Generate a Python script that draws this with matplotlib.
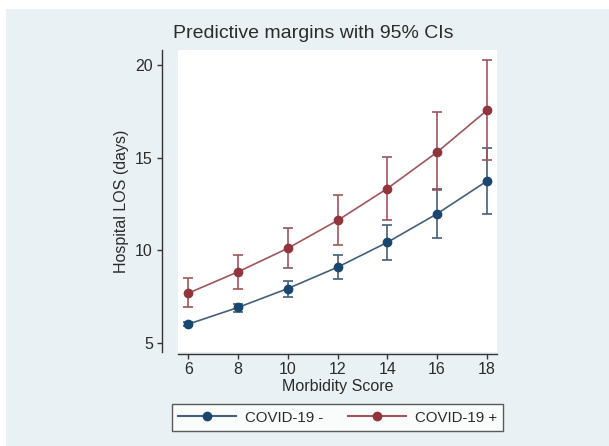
import matplotlib
matplotlib.use("Agg")
import matplotlib.pyplot as plt
from matplotlib.patches import Rectangle
from matplotlib.lines import Line2D

plt.rcParams['font.family'] = ['Liberation Sans', 'DejaVu Sans']

# Data
scores = [6, 8, 10, 12, 14, 16, 18]
neg_mean = [6.02, 6.92, 7.94, 9.09, 10.43, 11.97, 13.73]
neg_low = [5.92, 6.68, 7.51, 8.44, 9.48, 10.65, 11.97]
neg_high = [6.12, 7.13, 8.35, 9.75, 11.38, 13.28, 15.52]
pos_mean = [7.69, 8.84, 10.11, 11.61, 13.33, 15.29, 17.54]
pos_low = [6.92, 7.94, 9.05, 10.29, 11.65, 13.23, 14.86]
pos_high = [8.49, 9.73, 11.20, 12.97, 15.04, 17.46, 20.27]
labels = ["COVID-19 -", "COVID-19 +"]
yticks = [5, 10, 15, 20]
xticks = [6, 8, 10, 12, 14, 16, 18]

W, H = 609, 446
PX = 72 / 100  # points per pixel
fig = plt.figure(figsize=(W / 100, H / 100), dpi=100)
fig.patch.set_facecolor('white')
bg = '#e9f1f4'
fig.patches.append(Rectangle((6 / W, 0), 1 - 6 / W, 1 - 9 / H, transform=fig.transFigure,
                             facecolor=bg, edgecolor='none', zorder=-10))

ax = fig.add_axes([178 / W, 1 - 352 / H, (497 - 178) / W, (352 - 50) / H])
ax.set_facecolor('white')

blue_m, blue_l = '#1a476f', '#435f79'
red_m, red_l = '#90353b', '#a0555a'
txt = '#2b2b2b'

for mean, lo, hi, mc, lc in [(neg_mean, neg_low, neg_high, blue_m, blue_l),
                              (pos_mean, pos_low, pos_high, red_m, red_l)]:
    yerr = [[m - l for m, l in zip(mean, lo)], [h - m for m, h in zip(mean, hi)]]
    ax.errorbar(scores, mean, yerr=yerr, fmt='none', ecolor=lc, elinewidth=1.2,
                capsize=3.8, capthick=1.2, zorder=2)
    ax.plot(scores, mean, color=lc, lw=1.2, zorder=3)
    ax.plot(scores, mean, 'o', color=mc, markersize=6, zorder=4)

ax.set_xlim(5.59, 18.41)
ax.set_ylim(4.52, 20.8)
ax.set_xticks(xticks)
ax.set_yticks(yticks)
ax.spines['top'].set_visible(False)
ax.spines['right'].set_visible(False)
ax.spines['left'].set_position(('outward', 16 * PX))
ax.spines['bottom'].set_position(('outward', 1.5 * PX))
for s in ['left', 'bottom']:
    ax.spines[s].set_color('#333333')
    ax.spines[s].set_linewidth(1.0)
ax.tick_params(axis='both', colors='#333333', labelcolor=txt, labelsize=11.5,
               length=5 * PX, width=1.0, pad=4 * PX)

ax.set_xlabel('Morbidity Score', fontsize=11.5, color=txt, labelpad=1)
ax.set_ylabel('Hospital LOS (days)', fontsize=11.5, color=txt, labelpad=4.5)
fig.text(173 / W, 1 - 34 / H, 'Predictive margins with 95% CIs', fontsize=14,
         color=txt, ha='left', va='center')

handles = [Line2D([0], [0], color=blue_l, lw=1.5, marker='o', markersize=6,
                  markerfacecolor=blue_m, markeredgecolor=blue_m),
           Line2D([0], [0], color=red_l, lw=1.5, marker='o', markersize=6,
                  markerfacecolor=red_m, markeredgecolor=red_m)]
leg = fig.legend(handles, labels, loc='center', bbox_to_anchor=(337.5 / W, 1 - 417.5 / H),
                 ncol=2, frameon=True, fancybox=False, fontsize=10.8, handlelength=3.87,
                 columnspacing=1.6, handletextpad=0.6, borderpad=0.45, labelcolor=txt)
leg.get_frame().set_edgecolor('#333333')
leg.get_frame().set_linewidth(1.0)
leg.get_frame().set_facecolor('white')

fig.savefig('out.png', dpi=100, facecolor=fig.get_facecolor())
